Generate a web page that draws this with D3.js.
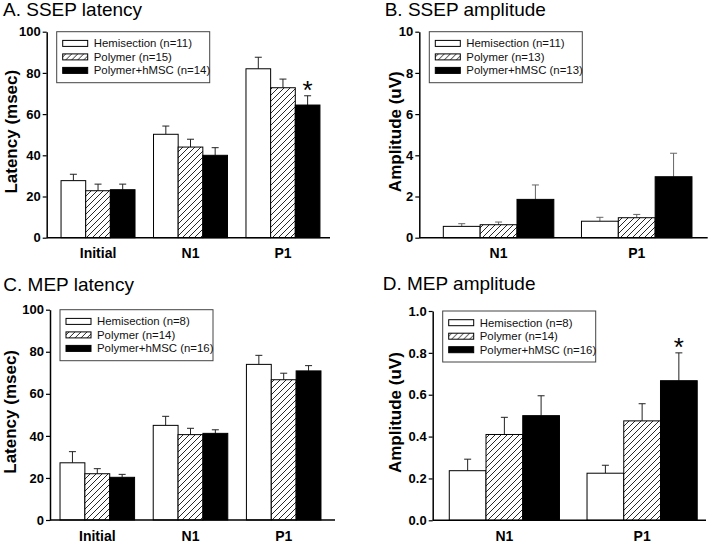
<!DOCTYPE html>
<html>
<head>
<meta charset="utf-8">
<script src="https://cdn.jsdelivr.net/npm/d3@7"></script>
<style>
  html, body { margin: 0; padding: 0; background: #fff; }
  svg { display: block; font-family: "Liberation Sans", Arial, Helvetica, sans-serif; }
</style>
</head>
<body>
<script>
// ---------------- DATA ----------------
const latencyCategories = ["Initial", "N1", "P1"];
const amplitudeCategories = ["N1", "P1"];
const groupNames = ["Hemisection", "Polymer", "Polymer+hMSC"];

// A. SSEP latency (msec): means and SE
const ssepLatHemi = [27.7, 50.2, 82.0];
const ssepLatHemiErr = [3.1, 4.0, 5.6];
const ssepLatPoly = [22.8, 44.0, 72.8];
const ssepLatPolyErr = [3.2, 3.8, 4.2];
const ssepLatMsc = [23.3, 40.0, 64.4];
const ssepLatMscErr = [2.7, 3.7, 4.5];
const ssepLatMscStar = [0, 0, 1];
const ssepLatN = ["(n=11)", "(n=15)", "(n=14)"];

// B. SSEP amplitude (uV)
const ssepAmpHemi = [0.55, 0.80];
const ssepAmpHemiErr = [0.13, 0.19];
const ssepAmpPoly = [0.63, 0.97];
const ssepAmpPolyErr = [0.13, 0.16];
const ssepAmpMsc = [1.86, 2.96];
const ssepAmpMscErr = [0.70, 1.14];
const ssepAmpN = ["(n=11)", "(n=13)", "(n=13)"];

// C. MEP latency (msec)
const mepLatHemi = [27.2, 45.0, 74.0];
const mepLatHemiErr = [5.3, 4.3, 4.3];
const mepLatPoly = [22.0, 40.6, 66.7];
const mepLatPolyErr = [2.4, 3.0, 3.1];
const mepLatMsc = [20.3, 41.2, 70.9];
const mepLatMscErr = [1.4, 1.7, 2.5];
const mepLatN = ["(n=8)", "(n=14)", "(n=16)"];

// D. MEP amplitude (uV)
const mepAmpHemi = [0.237, 0.225];
const mepAmpHemiErr = [0.055, 0.038];
const mepAmpPoly = [0.410, 0.475];
const mepAmpPolyErr = [0.082, 0.082];
const mepAmpMsc = [0.500, 0.667];
const mepAmpMscErr = [0.095, 0.133];
const mepAmpMscStar = [0, 1];
const mepAmpN = ["(n=8)", "(n=14)", "(n=16)"];

// tick values
const latencyTicks = [0, 20, 40, 60, 80, 100];
const ssepAmpTicks = [0, 2, 4, 6, 8, 10];
const mepAmpTicks = [0, 0.2, 0.4, 0.6, 0.8, 1.0];

// ---------------- DRAWING ----------------
const W = 713, H = 544;
const svg = d3.select("body").append("svg").attr("width", W).attr("height", H);

const defs = svg.append("defs");
const pat = defs.append("pattern")
  .attr("id", "hatch").attr("patternUnits", "userSpaceOnUse")
  .attr("width", 6).attr("height", 6);
pat.append("rect").attr("width", 6).attr("height", 6).attr("fill", "#fff");
pat.append("path")
  .attr("d", "M-1.5,1.5 L1.5,-1.5 M0,6 L6,0 M4.5,7.5 L7.5,4.5")
  .attr("stroke", "#111").attr("stroke-width", 0.9);

const fills = ["#fff", "url(#hatch)", "#000"];

function drawPanel(p) {
  const g = svg.append("g");
  const y = d3.scaleLinear().domain([p.ticks[0], p.ticks[p.ticks.length - 1]]).range([p.yBottom, p.yTop]);
  const x0 = d3.scaleBand().domain(p.cats).range(p.bandRange).paddingInner(0.2).paddingOuter(0.1);
  const x1 = d3.scaleBand().domain(d3.range(groupNames.length)).range([0, x0.bandwidth()]);

  const rows = p.cats.flatMap((c, ci) => p.series.map((s, si) => ({
    c, si, v: s.values[ci], e: s.errs[ci], star: s.stars ? s.stars[ci] : 0
  })));

  // error bars
  const eb = g.append("g").attr("stroke", p.errColor).attr("stroke-width", 1);
  eb.selectAll("line.v").data(rows).join("line")
    .attr("x1", d => x0(d.c) + x1(d.si) + x1.bandwidth() / 2)
    .attr("x2", d => x0(d.c) + x1(d.si) + x1.bandwidth() / 2)
    .attr("y1", d => y(d.v)).attr("y2", d => y(d.v + d.e));
  eb.selectAll("line.cap").data(rows).join("line")
    .attr("x1", d => x0(d.c) + x1(d.si) + x1.bandwidth() / 2 - 3.5)
    .attr("x2", d => x0(d.c) + x1(d.si) + x1.bandwidth() / 2 + 3.5)
    .attr("y1", d => y(d.v + d.e)).attr("y2", d => y(d.v + d.e));

  // bars
  g.selectAll("rect.bar").data(rows).join("rect")
    .attr("x", d => x0(d.c) + x1(d.si))
    .attr("y", d => y(d.v))
    .attr("width", x1.bandwidth())
    .attr("height", d => y(0) - y(d.v))
    .attr("fill", d => fills[d.si])
    .attr("stroke", "#000").attr("stroke-width", 1);

  // significance stars
  g.selectAll("text.star").data(rows.filter(d => d.star)).join("text")
    .attr("x", d => x0(d.c) + x1(d.si) + x1.bandwidth() / 2)
    .attr("y", d => y(d.v + d.e) + 3)
    .attr("text-anchor", "middle")
    .attr("font-size", 26).attr("fill", "#000")
    .text("*");

  // y axis
  const axis = d3.axisLeft(y).tickValues(p.ticks).tickSize(4).tickSizeOuter(0).tickPadding(2)
    .tickFormat(p.fmt);
  const ya = g.append("g").attr("transform", `translate(${p.axisX},0)`).call(axis);
  ya.select(".domain").attr("stroke", "#000").attr("stroke-width", 1.5);
  ya.selectAll(".tick line").attr("stroke", "#000").attr("stroke-width", 1.2);
  ya.selectAll(".tick text").attr("font-size", 13).attr("font-weight", "bold")
    .attr("fill", "#000").attr("font-family", "'Liberation Sans', Arial, sans-serif");

  // x axis line
  g.append("line").attr("x1", p.axisX).attr("x2", p.xEnd)
    .attr("y1", y(0)).attr("y2", y(0)).attr("stroke", "#000").attr("stroke-width", 1.5);

  // category labels
  g.selectAll("text.cat").data(p.cats).join("text")
    .attr("x", c => x0(c) + x0.bandwidth() / 2)
    .attr("y", y(0) + 20.5)
    .attr("text-anchor", "middle").attr("font-size", 14).attr("font-weight", "bold")
    .text(c => c);

  // y label
  g.append("text")
    .attr("transform", `translate(${p.yLabelX},${(p.yTop + p.yBottom) / 2 - 3}) rotate(-90)`)
    .attr("text-anchor", "middle").attr("font-size", 17).attr("font-weight", "bold")
    .text(p.yLabel);

  // title
  g.append("text").attr("x", p.titleX).attr("y", p.titleY)
    .attr("font-size", 19).text(p.title);

  // legend
  const lx = p.axisX + 10, ly = p.yTop;
  const lg = g.append("g").attr("transform", `translate(${lx},${ly})`);
  lg.append("rect").attr("x", 0).attr("y", 0).attr("width", 153).attr("height", 51)
    .attr("fill", "#fff").attr("stroke", "#444").attr("stroke-width", 1);
  const items = groupNames.map((n, i) => ({ i, label: n + " " + p.nLabels[i] }));
  const it = lg.selectAll("g.item").data(items).join("g")
    .attr("transform", d => `translate(6,${11.7 + d.i * 13.5})`);
  it.append("rect").attr("x", 0).attr("y", -3).attr("width", 25).attr("height", 6)
    .attr("fill", d => fills[d.i]).attr("stroke", "#000").attr("stroke-width", 1);
  it.append("text").attr("x", 31).attr("y", 0).attr("dy", "0.35em")
    .attr("font-size", 11.4).attr("fill", "#111").text(d => d.label);
}

const latFmt = d3.format("d");
drawPanel({
  title: "A. SSEP latency", titleX: 3, titleY: 16,
  cats: latencyCategories, ticks: latencyTicks, fmt: latFmt,
  yLabel: "Latency (msec)", yLabelX: 17,
  axisX: 46.7, yTop: 31.7, yBottom: 237.7, xEnd: 330, bandRange: [51.8, 329.2],
  errColor: "#222",
  nLabels: ssepLatN,
  series: [
    { values: ssepLatHemi, errs: ssepLatHemiErr },
    { values: ssepLatPoly, errs: ssepLatPolyErr },
    { values: ssepLatMsc, errs: ssepLatMscErr, stars: ssepLatMscStar }
  ]
});

drawPanel({
  title: "B. SSEP amplitude", titleX: 384.7, titleY: 16,
  cats: amplitudeCategories, ticks: ssepAmpTicks, fmt: d3.format("d"),
  yLabel: "Amplitude (uV)", yLabelX: 401,
  axisX: 419.3, yTop: 31.7, yBottom: 237.7, xEnd: 707.7, bandRange: [429.5, 705.8],
  errColor: "#666",
  nLabels: ssepAmpN,
  series: [
    { values: ssepAmpHemi, errs: ssepAmpHemiErr },
    { values: ssepAmpPoly, errs: ssepAmpPolyErr },
    { values: ssepAmpMsc, errs: ssepAmpMscErr }
  ]
});

drawPanel({
  title: "C. MEP latency", titleX: 3.3, titleY: 291,
  cats: latencyCategories, ticks: latencyTicks, fmt: latFmt,
  yLabel: "Latency (msec)", yLabelX: 16,
  axisX: 50, yTop: 309.7, yBottom: 520, xEnd: 335, bandRange: [50.7, 330.3],
  errColor: "#222",
  nLabels: mepLatN,
  series: [
    { values: mepLatHemi, errs: mepLatHemiErr },
    { values: mepLatPoly, errs: mepLatPolyErr },
    { values: mepLatMsc, errs: mepLatMscErr }
  ]
});

drawPanel({
  title: "D. MEP amplitude", titleX: 382.7, titleY: 290,
  cats: amplitudeCategories, ticks: mepAmpTicks, fmt: d3.format(".1f"),
  yLabel: "Amplitude (uV)", yLabelX: 400.5,
  axisX: 432.7, yTop: 311, yBottom: 520.3, xEnd: 706, bandRange: [435.5, 711],
  errColor: "#222",
  nLabels: mepAmpN,
  series: [
    { values: mepAmpHemi, errs: mepAmpHemiErr },
    { values: mepAmpPoly, errs: mepAmpPolyErr },
    { values: mepAmpMsc, errs: mepAmpMscErr, stars: mepAmpMscStar }
  ]
});
</script>
</body>
</html>
